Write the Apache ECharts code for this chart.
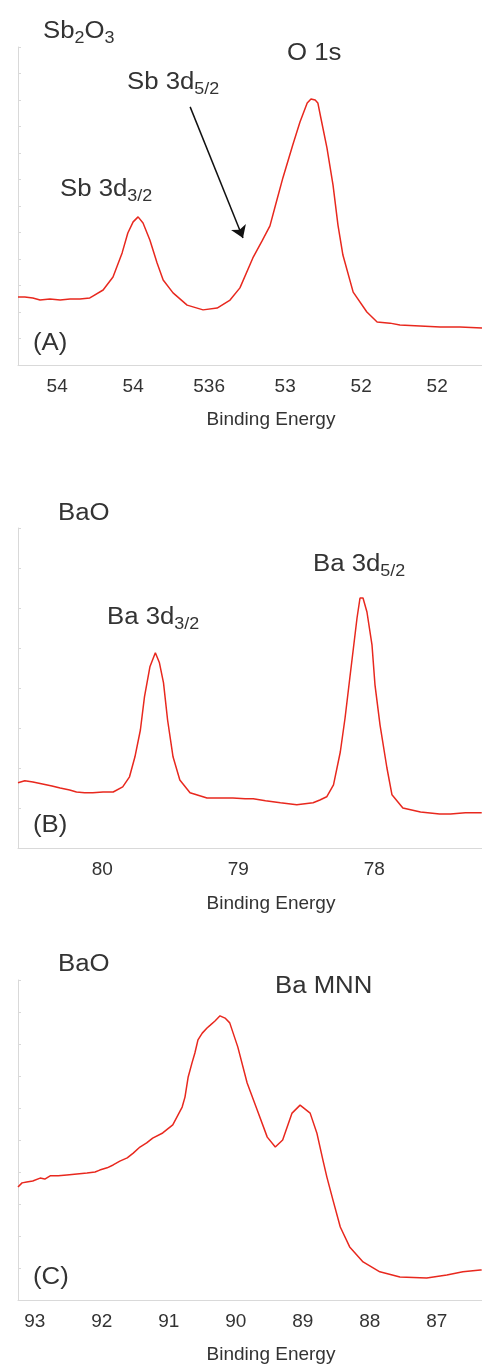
<!DOCTYPE html>
<html>
<head>
<meta charset="utf-8">
<script src="https://cdn.jsdelivr.net/npm/echarts@6.0.0/dist/echarts.min.js"></script>
<style>
  html, body { margin: 0; padding: 0; background: #fff; }
  #chart { width: 482px; height: 1364px; }
</style>
</head>
<body>
<div id="chart"></div>
<script>
// (A) Sb2O3 : binding energy (eV) / intensity (a.u.)
const energyA = [541.03, 540.85, 540.64, 540.45, 540.19, 539.92, 539.66, 539.40, 539.14, 539.06,
  538.79, 538.53, 538.29, 538.14, 538.00, 537.87, 537.74, 537.56, 537.37, 537.21,
  536.95, 536.58, 536.16, 535.79, 535.45, 535.19, 534.85, 534.60, 534.40, 534.26, 534.06,
  533.80, 533.61, 533.42, 533.32, 533.21, 533.14, 533.06, 532.90, 532.74, 532.61,
  532.48, 532.21, 531.85, 531.58, 531.24, 530.98, 530.45, 529.92, 529.40, 528.82];
const countsA = [2.57, 2.57, 2.53, 2.45, 2.49, 2.45, 2.49, 2.49, 2.53, 2.60,
  2.83, 3.32, 4.23, 4.98, 5.40, 5.59, 5.36, 4.72, 3.85, 3.21,
  2.72, 2.26, 2.08, 2.15, 2.45, 2.91, 4.04, 4.70, 5.25, 6.00, 7.06,
  8.30, 9.17, 9.89, 10.04, 10.0, 9.89, 9.32, 8.19, 6.79, 5.28,
  4.15, 2.75, 2.00, 1.62, 1.58, 1.51, 1.47, 1.43, 1.43, 1.40];
const ticksA = [540, 538, 536, 534, 532, 530];
const tickLabelsA = ['54', '54', '536', '53', '52', '52'];

// (B) BaO
const energyB = [80.62, 80.57, 80.51, 80.44, 80.37, 80.31, 80.24, 80.19, 80.13, 80.07,
  79.995, 79.92, 79.85, 79.80, 79.76, 79.72, 79.69, 79.65, 79.61, 79.60,
  79.58, 79.55, 79.52, 79.48, 79.43, 79.355, 79.23, 79.135, 79.04, 78.95,
  78.89, 78.80, 78.69, 78.57, 78.45, 78.40, 78.35, 78.30, 78.25, 78.215,
  78.18, 78.157, 78.127, 78.105, 78.091, 78.083, 78.054, 78.017, 77.995, 77.958,
  77.907, 77.87, 77.79, 77.66, 77.52, 77.44, 77.33, 77.21];
const countsB = [1.63, 1.68, 1.65, 1.60, 1.55, 1.50, 1.45, 1.40, 1.38, 1.38,
  1.40, 1.40, 1.53, 1.78, 2.28, 2.95, 3.78, 4.53, 4.88, 4.90,
  4.63, 4.13, 3.20, 2.28, 1.70, 1.38, 1.25, 1.25, 1.25, 1.23,
  1.23, 1.18, 1.13, 1.08, 1.13, 1.20, 1.28, 1.58, 2.40, 3.25,
  4.25, 4.90, 5.75, 6.25, 6.30, 6.25, 5.90, 5.08, 4.08, 3.08,
  2.00, 1.33, 1.00, 0.90, 0.85, 0.85, 0.88, 0.88];
const ticksB = [80, 79, 78];
const tickLabelsB = ['80', '79', '78'];

// (C) BaO, Ba MNN
const energyC = [93.25, 93.19, 93.12, 93.03, 92.92, 92.85, 92.77, 92.65, 92.52, 92.37,
  92.22, 92.10, 92.03, 91.92, 91.83, 91.73, 91.62, 91.53, 91.43, 91.33,
  91.24, 91.09, 90.94, 90.80, 90.758, 90.71, 90.653, 90.61, 90.564, 90.50, 90.429, 90.38, 90.31, 90.235, 90.16,
  90.09, 89.97, 89.83, 89.68, 89.53, 89.41, 89.30, 89.16, 89.04, 88.89,
  88.79, 88.70, 88.64, 88.55, 88.44, 88.30, 88.10, 87.85, 87.55, 87.15,
  86.85, 86.61, 86.35, 86.33];
const countsC = [3.53, 3.66, 3.69, 3.72, 3.81, 3.78, 3.88, 3.88, 3.91, 3.94,
  3.97, 4.00, 4.06, 4.13, 4.22, 4.34, 4.44, 4.59, 4.78, 4.91,
  5.06, 5.22, 5.47, 6.03, 6.34, 6.97, 7.41, 7.72, 8.13, 8.34, 8.50, 8.59, 8.72, 8.88, 8.81,
  8.66, 7.91, 6.78, 5.94, 5.09, 4.78, 5.00, 5.84, 6.09, 5.84,
  5.22, 4.38, 3.84, 3.13, 2.28, 1.66, 1.19, 0.88, 0.72, 0.69,
  0.78, 0.88, 0.94, 0.94];
const ticksC = [93, 92, 91, 90, 89, 88, 87];
const tickLabelsC = ['93', '92', '91', '90', '89', '88', '87'];

const LINE = '#e8281e';
const AXIS = '#d9d9d9';
const TEXT = '#333';
const FONT = '"Liberation Sans", Arial, sans-serif';

function pairs(xs, ys) {
  return xs.map((x, i) => [x, ys[i]]);
}

function xAxisFor(idx, min, max, ticks, labels) {
  return {
    gridIndex: idx, type: 'value', inverse: true, min: min, max: max,
    axisLine: { show: true, lineStyle: { color: AXIS, width: 1 } },
    axisTick: { show: false },
    splitLine: { show: false },
    axisLabel: {
      customValues: ticks,
      formatter: v => {
        const i = ticks.findIndex(t => Math.abs(t - v) < 1e-6);
        return i < 0 ? '' : labels[i];
      },
      color: TEXT, fontSize: 19, fontFamily: FONT, margin: 12
    }
  };
}

function yAxisFor(idx, max) {
  return {
    gridIndex: idx, type: 'value', min: 0, max: max, interval: 1,
    axisLine: { show: true, lineStyle: { color: AXIS, width: 1 } },
    axisTick: { show: true, inside: true, length: 3, lineStyle: { color: AXIS } },
    axisLabel: { show: false },
    splitLine: { show: false }
  };
}

// annotation text, slightly widened like the original figure
function label(x, y, text) {
  const size = 23;
  return {
    type: 'text', x: x, y: y, scaleX: 1.12, silent: true,
    style: {
      text: text, fill: TEXT, fontSize: size, fontFamily: FONT,
      textAlign: 'left', textVerticalAlign: 'middle',
      rich: {
        n: { fontSize: size, fontFamily: FONT, fill: TEXT, verticalAlign: 'bottom', lineHeight: size + 4 },
        s: { fontSize: 16, fontFamily: FONT, fill: TEXT, verticalAlign: 'bottom', lineHeight: 16, padding: [0, 0, -3, 0] }
      }
    }
  };
}

function axisName(y) {
  return {
    type: 'text', x: 271, y: y, silent: true,
    style: {
      text: 'Binding Energy', fill: TEXT, fontSize: 19, fontFamily: FONT,
      textAlign: 'center', textVerticalAlign: 'middle'
    }
  };
}

const chart = echarts.init(document.getElementById('chart'), null, { renderer: 'canvas' });

chart.setOption({
  animation: false,
  backgroundColor: '#fff',
  grid: [
    { left: 18, top: 47, width: 464, height: 318, outerBoundsMode: 'none' },
    { left: 18, top: 528, width: 464, height: 320, outerBoundsMode: 'none' },
    { left: 18, top: 980, width: 464, height: 320, outerBoundsMode: 'none' }
  ],
  xAxis: [
    xAxisFor(0, 528.82, 541.03, ticksA, tickLabelsA),
    xAxisFor(1, 77.208, 80.62, ticksB, tickLabelsB),
    xAxisFor(2, 86.325, 93.25, ticksC, tickLabelsC)
  ],
  yAxis: [yAxisFor(0, 12), yAxisFor(1, 8), yAxisFor(2, 10)],
  series: [
    {
      type: 'line', xAxisIndex: 0, yAxisIndex: 0, data: pairs(energyA, countsA),
      showSymbol: false, lineStyle: { color: LINE, width: 1.5 },
      markLine: {
        silent: true, symbol: ['none', 'arrow'], symbolSize: 12,
        label: { show: false },
        lineStyle: { color: '#111', width: 1.5, type: 'solid' },
        data: [[{ coord: [536.5, 9.74] }, { coord: [535.11, 4.79] }]]
      }
    },
    {
      type: 'line', xAxisIndex: 1, yAxisIndex: 1, data: pairs(energyB, countsB),
      showSymbol: false, lineStyle: { color: LINE, width: 1.5 }
    },
    {
      type: 'line', xAxisIndex: 2, yAxisIndex: 2, data: pairs(energyC, countsC),
      showSymbol: false, lineStyle: { color: LINE, width: 1.5 }
    }
  ],
  graphic: [
    label(43, 30, '{n|Sb}{s|2}{n|O}{s|3}'),
    label(287, 54, 'O 1s'),
    label(127, 81, '{n|Sb 3d}{s|5/2}'),
    label(60, 188, '{n|Sb 3d}{s|3/2}'),
    label(33, 344, '(A)'),
    axisName(420),

    label(58, 514, 'BaO'),
    label(313, 563, '{n|Ba 3d}{s|5/2}'),
    label(107, 616, '{n|Ba 3d}{s|3/2}'),
    label(33, 826, '(B)'),
    axisName(904),

    label(58, 965, 'BaO'),
    label(275, 987, 'Ba MNN'),
    label(33, 1278, '(C)'),
    axisName(1355)
  ]
});
</script>
</body>
</html>
